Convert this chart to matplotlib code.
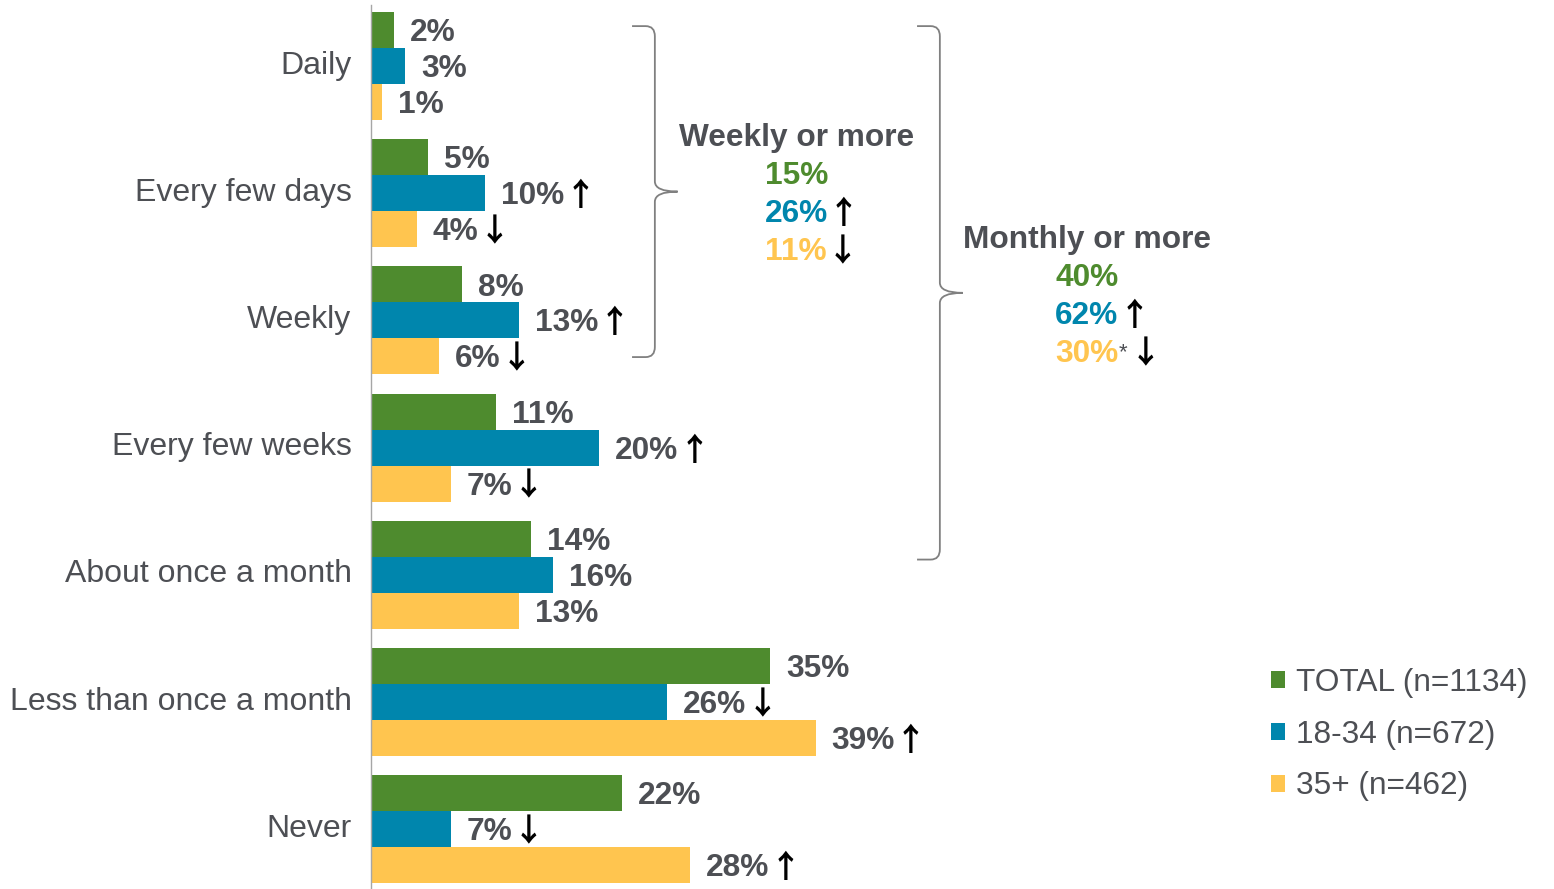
import matplotlib
matplotlib.use("Agg")
import matplotlib.pyplot as plt
from matplotlib.path import Path
from matplotlib.patches import PathPatch, Patch
from matplotlib.transforms import ScaledTranslation

# ---------------- data ----------------
categories = ["Daily", "Every few days", "Weekly", "Every few weeks",
              "About once a month", "Less than once a month", "Never"]
series_names = ["TOTAL (n=1134)", "18-34 (n=672)", "35+ (n=462)"]
total_vals = [2, 5, 8, 11, 14, 35, 22]
young_vals = [3, 10, 13, 20, 16, 26, 7]
old_vals = [1, 4, 6, 7, 13, 39, 28]
total_sig = ["", "", "", "", "", "", ""]
young_sig = ["", "up", "up", "up", "", "down", "down"]
old_sig = ["", "down", "down", "down", "", "up", "up"]

weekly_title = "Weekly or more"
weekly_vals = [15, 26, 11]
weekly_sig = ["", "up", "down"]
weekly_note = ["", "", ""]
monthly_title = "Monthly or more"
monthly_vals = [40, 62, 30]
monthly_sig = ["", "up", "down"]
monthly_note = ["", "", "*"]

# ---------------- style ----------------
colors = ["#4E8B2E", "#0086AD", "#FFC54F"]
text_gray = "#4D4F54"
brace_gray = "#808080"
FS = 22.8
FONT = ["Liberation Sans", "DejaVu Sans"]
ARROW_FONT = ["Noto Sans CJK SC", "DejaVu Sans"]
plt.rcParams["font.family"] = FONT
ARROWS = {"up": "\u2191", "down": "\u2193"}

W, H = 1554, 889
fig = plt.figure(figsize=(W / 100, H / 100), dpi=100)
left_px, top_px = 371, 5
ax = fig.add_axes([left_px / W, 0, 1 - left_px / W, (H - top_px) / H])

px_per_pct = 11.4
ax.set_xlim(0, (W - left_px) / px_per_pct)
ax.set_ylim(6.47, -0.48)

DOWN3 = -2.2  # points: shift text slightly down


def add_arrow(anchor, sig, dx=0.0):
    return ax.annotate(ARROWS[sig], xy=(1, 0.5), xycoords=anchor, xytext=(dx, 0),
                       textcoords="offset points", ha="left", va="center",
                       fontsize=FS, fontweight="bold", color="black",
                       family=ARROW_FONT)


bar_h = 0.283
offsets = [-bar_h, 0, bar_h]
all_vals = [total_vals, young_vals, old_vals]
all_sig = [total_sig, young_sig, old_sig]
ypos = list(range(len(categories)))

for s, (vals, sigs, off, col) in enumerate(zip(all_vals, all_sig, offsets, colors)):
    ys = [y + off for y in ypos]
    ax.barh(ys, vals, height=bar_h, color=col, label=series_names[s])
    for y, v, sg in zip(ys, vals, sigs):
        t = ax.annotate(f"{v}%", xy=(v, y), xytext=(11.5, DOWN3), textcoords="offset points",
                        ha="left", va="center", fontsize=FS, fontweight="bold",
                        color=text_gray)
        if sg:
            add_arrow(t, sg, 0)

# category labels
ax.set_yticks(ypos)
ax.set_yticklabels(categories, fontsize=FS * 1.012, color=text_gray)
ax.tick_params(axis="y", length=0, pad=14)
shift_up = ScaledTranslation(0, 4 / 100, fig.dpi_scale_trans)
for lbl in ax.get_yticklabels():
    lbl.set_transform(lbl.get_transform() + shift_up)
ax.tick_params(axis="x", bottom=False, labelbottom=False)
for sp in ["top", "right", "bottom"]:
    ax.spines[sp].set_visible(False)
ax.spines["left"].set_color("#A6A6A6")
ax.spines["left"].set_linewidth(1.0)


def brace(xl, xv, xt, top, bot, rx=0.8, ry=0.08):
    mid = (top + bot) / 2
    verts = [(xl, top), (xv - rx, top), (xv, top), (xv, top + ry),
             (xv, mid - ry), (xv, mid), (xt, mid),
             (xv, mid), (xv, mid + ry),
             (xv, bot - ry), (xv, bot), (xv - rx, bot), (xl, bot)]
    codes = [Path.MOVETO, Path.LINETO, Path.CURVE3, Path.CURVE3,
             Path.LINETO, Path.CURVE3, Path.CURVE3,
             Path.CURVE3, Path.CURVE3,
             Path.LINETO, Path.CURVE3, Path.CURVE3, Path.LINETO]
    ax.add_patch(PathPatch(Path(verts, codes), fill=False, edgecolor=brace_gray,
                           lw=1.3, clip_on=False))


brace(22.9, 24.9, 26.9, -0.314, 2.288)
brace(47.9, 49.9, 51.9, -0.314, 3.88)


def summary(x, y0, title, vals, sigs, notes, step=0.299):
    ax.annotate(title, xy=(x, y0), xytext=(0, DOWN3), textcoords="offset points",
                ha="center", va="center", fontsize=FS, fontweight="bold",
                color=text_gray)
    for i, (v, sg, nt) in enumerate(zip(vals, sigs, notes)):
        t = ax.annotate(f"{v}%", xy=(x, y0 + step * (i + 1)), xytext=(0, DOWN3),
                        textcoords="offset points", ha="center", va="center",
                        fontsize=FS, fontweight="bold", color=colors[i])
        if nt:
            star = ax.annotate(nt, xy=(1, 1), xycoords=t, xytext=(0.3, -2),
                               textcoords="offset points", ha="left", va="top",
                               fontsize=FS * 0.7, color=text_gray)
            if sg:
                ax.annotate(ARROWS[sg], xy=(1, 0.5), xycoords=t, xytext=(8, 0),
                            textcoords="offset points", ha="left", va="center",
                            fontsize=FS, fontweight="bold", color="black",
                            family=ARROW_FONT)
        elif sg:
            add_arrow(t, sg, 0)


summary(37.3, 0.542, weekly_title, weekly_vals, weekly_sig, weekly_note)
summary(62.8, 1.344, monthly_title, monthly_vals, monthly_sig, monthly_note)

handles = [Patch(facecolor=c) for c in colors]
leg = fig.legend(handles, series_names, loc="upper left",
                 bbox_to_anchor=(1258 / W, 1 - 655 / H), frameon=False,
                 fontsize=FS, handlelength=0.45, handleheight=0.45,
                 handletextpad=0.35, labelspacing=0.69, borderaxespad=0)
for txt in leg.get_texts():
    txt.set_color(text_gray)

fig.savefig("out.png", dpi=100)
